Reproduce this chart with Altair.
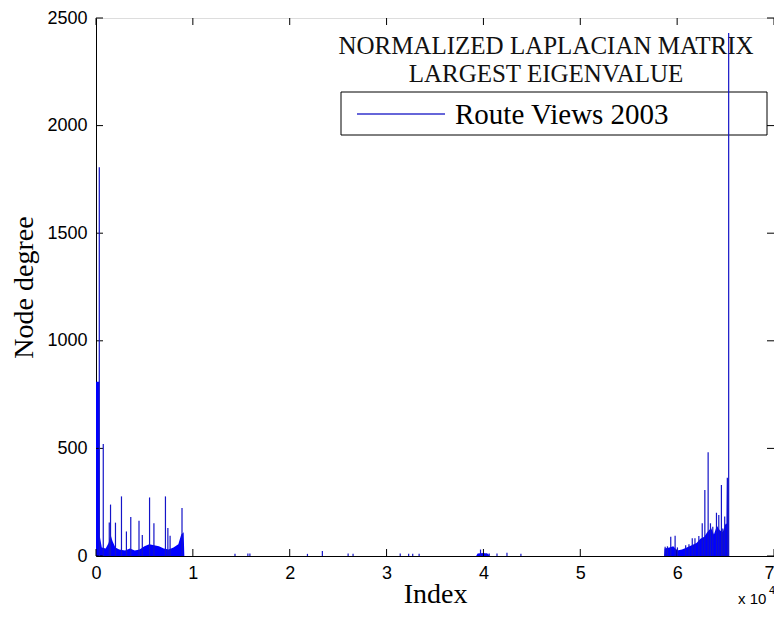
import altair as alt
import pandas as pd

# ---- data ----
spike_idx = [340, 750, 1370, 1500, 2010, 2630, 3140, 3590, 4440, 4780, 5530, 5980,
             7170, 7420, 7650, 8880,
             14350, 15680, 15890, 21830, 23370, 26030, 26540, 31410, 32280, 32700,
             33360, 39700, 40300, 40600, 41400, 42430, 43870,
             58760, 59000, 59340, 59790, 60030, 60880, 61220, 61560, 61840, 62240,
             62590, 62860, 63200, 63440, 63680, 64060, 64300, 64570, 64710, 64910,
             65180, 65320]
spike_deg = [1807, 520, 156, 239, 155, 277, 114, 181, 164, 98, 272, 152,
             277, 130, 94, 223,
             10, 12, 12, 10, 23, 12, 10, 12, 10, 10,
             10, 30, 12, 12, 12, 15, 10,
             43, 45, 90, 94, 40, 50, 55, 83, 82, 93,
             152, 307, 482, 152, 136, 201, 191, 330, 128, 183,
             364, 2430]

left_idx = [0, 340, 400, 600, 1000, 1300, 1500, 1700, 2000, 2400, 3000, 3500, 4000,
            4500, 5000, 5500, 6000, 6500, 7000, 7500, 8000, 8500, 8800, 9050, 9120]
left_lvl = [810, 810, 90, 40, 35, 60, 100, 70, 40, 30, 25, 35, 25,
            30, 45, 55, 50, 45, 35, 30, 40, 55, 100, 110, 0]
mid_idx = [39250, 39400, 40000, 40500, 40600]
mid_lvl = [0, 12, 14, 10, 0]
right_idx = [58650, 58700, 59200, 59600, 60000, 60500, 61000, 61500, 62000, 62400,
             62800, 63100, 63500, 63800, 64100, 64400, 64700, 65000, 65100, 65150,
             65300, 65330]
right_lvl = [0, 35, 40, 45, 25, 30, 40, 50, 60, 80,
             90, 110, 130, 100, 140, 120, 110, 150, 150, 360,
             360, 0]

x_ticks = [0, 10000, 20000, 30000, 40000, 50000, 60000, 70000]
y_ticks = [0, 500, 1000, 1500, 2000, 2500]
title_lines = ["NORMALIZED LAPLACIAN MATRIX", "LARGEST EIGENVALUE"]
legend_label = "Route Views 2003"

W, H = 678, 538
BLUE = "#0000ff"
LINE_BLUE = "#1414c8"

area_df = pd.DataFrame({
    "idx": left_idx + mid_idx + right_idx,
    "lvl": left_lvl + mid_lvl + right_lvl,
    "seg": ["L"] * len(left_idx) + ["M"] * len(mid_idx) + ["R"] * len(right_idx),
})
spike_df = pd.DataFrame({"idx": spike_idx, "deg": spike_deg})
xt_df = pd.DataFrame({"t": x_ticks})
yt_df = pd.DataFrame({"t": y_ticks})
one = pd.DataFrame({"a": [0]})

xs = alt.Scale(domain=[0, 70000], nice=False, zero=False)
ys = alt.Scale(domain=[0, 2500], nice=False, zero=False)

x_axis = alt.Axis(values=x_ticks, labelExpr="datum.value/10000", ticks=False, grid=False,
                  domainColor="black", labelFont="Liberation Sans", labelFontSize=18,
                  labelColor="black", labelPadding=8, labelFlush=False,
                  labelAlign=alt.condition("datum.value >= 70000", alt.value("right"),
                                           alt.value("center")),
                  title="Index",
                  titleFont="Liberation Serif", titleFontSize=28, titleFontWeight="normal",
                  titleColor="black", titleX=W / 2, titleY=46, titleBaseline="alphabetic",
                  titleAlign="center")
y_axis = alt.Axis(values=y_ticks, format="d", ticks=False, grid=False, domainColor="black",
                  labelFont="Liberation Sans", labelFontSize=18, labelColor="black",
                  labelPadding=9, title="Node degree", titleFont="Liberation Serif",
                  titleFontSize=28, titleFontWeight="normal", titleColor="black",
                  titleAngle=270, titleX=-72, titleY=H / 2, titleAlign="center",
                  titleBaseline="middle")

base_area = alt.Chart(area_df).mark_area(color=BLUE, interpolate="linear").encode(
    x=alt.X("idx:Q", scale=xs, axis=x_axis),
    y=alt.Y("lvl:Q", scale=ys, axis=y_axis),
    detail="seg:N",
)

spikes = alt.Chart(spike_df).mark_rule(color=LINE_BLUE, strokeWidth=1.2).encode(
    x=alt.X("idx:Q", scale=xs),
    y=alt.Y("deg:Q", scale=ys),
    y2=alt.datum(0),
)

tick_len = 7
ticks_bottom = alt.Chart(xt_df).mark_rule(color="black").encode(
    x=alt.X("t:Q", scale=xs), y=alt.value(H), y2=alt.value(H - tick_len))
ticks_top = alt.Chart(xt_df).mark_rule(color="black").encode(
    x=alt.X("t:Q", scale=xs), y=alt.value(0), y2=alt.value(tick_len))
ticks_left = alt.Chart(yt_df).mark_rule(color="black").encode(
    y=alt.Y("t:Q", scale=ys), x=alt.value(0), x2=alt.value(tick_len))
ticks_right = alt.Chart(yt_df).mark_rule(color="black").encode(
    y=alt.Y("t:Q", scale=ys), x=alt.value(W), x2=alt.value(W - tick_len))

title_txt = alt.Chart(one).mark_text(font="Liberation Serif", fontSize=25, color="#111",
                                     align="center", baseline="alphabetic",
                                     lineHeight=28).encode(
    x=alt.value(450), y=alt.value(36), text=alt.value(title_lines))

leg_box = alt.Chart(one).mark_rect(fill="white", fillOpacity=0, stroke="black",
                                   strokeWidth=1).encode(
    x=alt.value(245), x2=alt.value(671), y=alt.value(74), y2=alt.value(117))
leg_line = alt.Chart(one).mark_rule(color="#3333cc", strokeWidth=1.5).encode(
    x=alt.value(261), x2=alt.value(349), y=alt.value(96))
leg_text = alt.Chart(one).mark_text(font="Liberation Serif", fontSize=29, color="black",
                                    align="left", baseline="middle").encode(
    x=alt.value(359), y=alt.value(97), text=alt.value(legend_label))

exp_main = alt.Chart(one).mark_text(font="Liberation Sans", fontSize=15, color="black",
                                    align="left", baseline="alphabetic").encode(
    x=alt.value(642), y=alt.value(586), text=alt.value("x 10"))
exp_sup = alt.Chart(one).mark_text(font="Liberation Sans", fontSize=11, color="black",
                                   align="left", baseline="alphabetic").encode(
    x=alt.value(673), y=alt.value(576), text=alt.value("4"))

chart = alt.layer(
    base_area, ticks_bottom, ticks_top, ticks_left, ticks_right,
    title_txt, leg_box, leg_line, leg_text, spikes, exp_main, exp_sup
).properties(
    width=W, height=H,
    autosize=alt.AutoSizeParams(type="none"),
    padding={"left": 88, "top": 10, "right": 0, "bottom": 52},
).configure_view(stroke="black", strokeWidth=1).configure(background="white")

chart.save("out.html", embed_options={"renderer": "svg", "actions": False})
